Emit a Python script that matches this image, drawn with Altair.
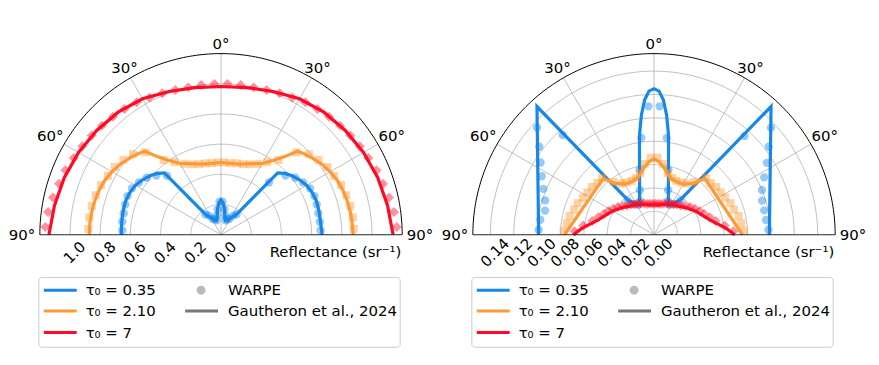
import altair as alt
import pandas as pd

FONT = "DejaVu Sans"
FS = 15
BLUE = "#1688e8"
ORANGE = "#ff9a36"
RED = "#ff0a26"
GRID = "#b0b0b0"

# ---------------- data ----------------
WARPE_ANG = [-87.5, -82.5, -77.5, -72.5, -67.5, -62.5, -57.5, -52.5, -47.5, -42.5,
             -37.5, -32.5, -27.5, -22.5, -17.5, -12.5, -7.5, -2.5,
             2.5, 7.5, 12.5, 17.5, 22.5, 27.5, 32.5, 37.5,
             42.5, 47.5, 52.5, 57.5, 62.5, 67.5, 72.5, 77.5, 82.5, 87.5]

# Left panel
L_BLUE_LINE_ANG = [-90, -85, -80, -75, -70, -65, -60, -55, -50, -46, -42.5, -37, -32, -25, -17, -12, -8, -4, 0,
                   4, 8, 12, 17, 25, 32, 37, 42.5, 46, 50, 55, 60, 65, 70, 75, 80, 85, 90]
L_BLUE_LINE_R = [0.66, 0.662, 0.665, 0.668, 0.67, 0.665, 0.655, 0.635, 0.61, 0.585, 0.556, 0.165, 0.14, 0.11, 0.10, 0.12, 0.17, 0.21, 0.23,
                 0.21, 0.17, 0.12, 0.10, 0.11, 0.14, 0.165, 0.556, 0.585, 0.61, 0.635, 0.655, 0.665, 0.67, 0.668, 0.665, 0.665, 0.67]
L_BLUE_PTS_R = [0.655, 0.66, 0.66, 0.665, 0.67, 0.665, 0.645, 0.62, 0.58, 0.53, 0.17, 0.15, 0.12, 0.11, 0.10, 0.13, 0.17, 0.22,
                0.22, 0.17, 0.13, 0.10, 0.11, 0.12, 0.15, 0.17, 0.47, 0.58, 0.62, 0.645, 0.665, 0.67, 0.665, 0.66, 0.66, 0.66]

L_ORANGE_LINE_ANG = [-90, -85, -80, -75, -70, -65, -60, -55, -50, -46, -42.5, -39, -35, -30, -25, -20, -15, -10, -5, 0,
                     5, 10, 15, 20, 25, 30, 35, 39, 42.5, 46, 50, 55, 60, 65, 70, 75, 80, 85, 90]
L_ORANGE_LINE_R = [0.873, 0.872, 0.87, 0.866, 0.86, 0.85, 0.835, 0.815, 0.79, 0.77, 0.75, 0.665, 0.60, 0.545, 0.52, 0.50, 0.485, 0.478, 0.476, 0.48,
                   0.476, 0.478, 0.485, 0.50, 0.52, 0.545, 0.60, 0.665, 0.75, 0.77, 0.79, 0.815, 0.835, 0.85, 0.86, 0.866, 0.87, 0.872, 0.875]
L_ORANGE_PTS_R = [0.88, 0.88, 0.877, 0.87, 0.86, 0.845, 0.835, 0.815, 0.79, 0.74, 0.625, 0.57, 0.53, 0.505, 0.49, 0.485, 0.478, 0.48,
                  0.48, 0.478, 0.485, 0.49, 0.505, 0.53, 0.57, 0.625, 0.74, 0.79, 0.815, 0.835, 0.845, 0.86, 0.87, 0.877, 0.88, 0.88]

L_RED_LINE_ANG = [-90, -80, -70, -60, -50, -40, -30, -20, -10, 0, 10, 20, 30, 40, 50, 60, 70, 80, 90]
L_RED_LINE_R = [1.14, 1.12, 1.105, 1.09, 1.075, 1.06, 1.04, 1.01, 0.99, 0.982, 0.99, 1.01, 1.04, 1.06, 1.075, 1.09, 1.105, 1.12, 1.14]
L_RED_PTS_R = [1.165, 1.155, 1.14, 1.125, 1.115, 1.10, 1.09, 1.08, 1.07, 1.06, 1.05, 1.04, 1.025, 1.015, 1.005, 1.0, 1.0, 1.0,
               1.0, 1.0, 1.0, 1.005, 1.015, 1.025, 1.04, 1.05, 1.06, 1.07, 1.08, 1.09, 1.10, 1.115, 1.125, 1.14, 1.155, 1.165]

# Right panel
R_BLUE_LINE_ANG = [-90, -42.4, -37, -26, -9, -8, -6, -4, -2, 0, 2, 4, 6, 8, 9, 26, 37, 42.4, 90]
R_BLUE_LINE_R = [0.0987, 0.1485, 0.037, 0.028, 0.0795, 0.088, 0.103, 0.1155, 0.123, 0.125,
                 0.123, 0.1155, 0.103, 0.088, 0.0795, 0.028, 0.037, 0.1485, 0.0987]
R_BLUE_PTS_R = [0.0988, 0.0982, 0.0955, 0.0977, 0.1025, 0.1084, 0.1151, 0.1237, 0.1357, 0.1156, 0.037, 0.031, 0.029, 0.031, 0.040, 0.0568, 0.0836, 0.110,
                0.110, 0.0836, 0.0568, 0.040, 0.031, 0.029, 0.031, 0.037, 0.1146, 0.1357, 0.1237, 0.1146, 0.1063, 0.100, 0.097, 0.0966, 0.0966, 0.098]

R_ORANGE_LINE_ANG = [-90, -42, -37.3, -30, -23, -18, -13.5, -8, -4, 0, 4, 8, 13.5, 18, 23, 30, 37.3, 42, 90]
R_ORANGE_LINE_R = [0.0765, 0.0649, 0.0553, 0.050, 0.0493, 0.050, 0.0525, 0.0585, 0.0625, 0.065,
                   0.0625, 0.0585, 0.0525, 0.050, 0.0493, 0.050, 0.0553, 0.0649, 0.0757]
R_ORANGE_PTS_R = [0.0775, 0.0753, 0.0741, 0.0717, 0.0707, 0.0686, 0.0676, 0.0671, 0.0657, 0.066, 0.057, 0.052, 0.0505, 0.050, 0.051, 0.054, 0.061, 0.066,
                  0.066, 0.061, 0.054, 0.051, 0.050, 0.0505, 0.052, 0.057, 0.066, 0.0657, 0.0671, 0.0676, 0.0686, 0.0707, 0.0717, 0.0741, 0.0753, 0.0770]

R_RED_LINE_ANG = [-90, -85, -80, -75, -70, -60, -50, -40, -30, -20, -10, 0, 10, 20, 30, 40, 50, 60, 70, 75, 80, 85, 90]
R_RED_LINE_R = [0.069, 0.062, 0.0547, 0.0495, 0.0458, 0.0408, 0.036, 0.032, 0.030, 0.0278, 0.026, 0.0255,
                0.026, 0.0278, 0.030, 0.032, 0.036, 0.0408, 0.0458, 0.0495, 0.0547, 0.062, 0.069]
R_RED_PTS_R = [0.068, 0.061, 0.054, 0.050, 0.0465, 0.044, 0.0415, 0.039, 0.0365, 0.034, 0.0325, 0.031, 0.030, 0.029, 0.028, 0.027, 0.0268, 0.0265,
               0.0265, 0.0268, 0.027, 0.028, 0.029, 0.030, 0.031, 0.0325, 0.034, 0.0365, 0.039, 0.0415, 0.044, 0.0465, 0.050, 0.054, 0.061, 0.068]

L_RMAX = 1.2
L_RINGS = [0.2, 0.4, 0.6, 0.8, 1.0]
L_TICKS = [0.0, 0.2, 0.4, 0.6, 0.8, 1.0]
L_TICK_LABELS = ["0.0", "0.2", "0.4", "0.6", "0.8", "1.0"]

R_RMAX = 0.155
R_RINGS = [0.02, 0.04, 0.06, 0.08, 0.10, 0.12, 0.14]
R_TICKS = [0.0, 0.02, 0.04, 0.06, 0.08, 0.10, 0.12, 0.14]
R_TICK_LABELS = ["0.00", "0.02", "0.04", "0.06", "0.08", "0.10", "0.12", "0.14"]

SPOKES = [-60, -30, 0, 30, 60]
EDGES = [-90, 90]
THETA_TICKS = [-90, -60, -30, 0, 30, 60, 90]
THETA_LABELS = ["90°", "60°", "30°", "0°", "30°", "60°", "90°"]

LEGEND_TAU = ["τ₀ = 0.35", "τ₀ = 2.10", "τ₀ = 7"]
LEGEND_COLORS = [BLUE, ORANGE, RED]

# ---------------- layout ----------------
W, H = 430, 349
CX, CY = 212, 227
R_PX = 182

X_EXPR = "datum.r * sin(datum.ang * PI / 180)"
Y_EXPR = "datum.r * cos(datum.ang * PI / 180)"


def panel(rmax, rings, ticks, tick_labels, series):
    k = R_PX / rmax
    xs = alt.Scale(domain=[-CX / k, (W - CX) / k], nice=False, zero=False)
    ys = alt.Scale(domain=[-(H - CY) / k, CY / k], nice=False, zero=False)
    X = alt.X("x:Q", scale=xs, axis=None)
    Y = alt.Y("y:Q", scale=ys, axis=None)

    arc_ang = list(range(-90, 91))
    ring_df = pd.DataFrame([{"ring": rr, "r": rr, "ang": a} for rr in rings for a in arc_ang])
    spine_df = pd.DataFrame([{"r": rmax, "ang": a} for a in arc_ang])

    layers = []
    layers.append(
        alt.Chart(ring_df).mark_line(stroke=GRID, strokeWidth=0.8)
        .transform_calculate(x=X_EXPR, y=Y_EXPR)
        .encode(x=X, y=Y, detail="ring:N", order="ang:Q")
    )
    layers.append(
        alt.Chart(pd.DataFrame({"ang": SPOKES})).mark_rule(stroke=GRID, strokeWidth=0.8)
        .transform_calculate(x="0", y="0",
                             x2=f"{rmax} * sin(datum.ang * PI / 180)",
                             y2=f"{rmax} * cos(datum.ang * PI / 180)")
        .encode(x=X, y=Y, x2="x2:Q", y2="y2:Q")
    )
    for ang, r_line, r_pts, color, shape, size in series:
        ldf = pd.DataFrame({"i": list(range(len(ang))), "ang": ang, "r": r_line})
        pdf = pd.DataFrame({"ang": WARPE_ANG, "r": r_pts})
        layers.append(
            alt.Chart(ldf).mark_line(color=color, strokeWidth=3.2)
            .transform_calculate(x=X_EXPR, y=Y_EXPR)
            .encode(x=X, y=Y, order="i:Q")
        )
        layers.append(
            alt.Chart(pdf).mark_point(shape=shape, filled=True, size=size, color=color,
                                      opacity=0.45, strokeWidth=0)
            .transform_calculate(x=X_EXPR, y=Y_EXPR)
            .encode(x=X, y=Y)
        )
    layers.append(
        alt.Chart(spine_df).mark_line(stroke="black", strokeWidth=1)
        .transform_calculate(x=X_EXPR, y=Y_EXPR)
        .encode(x=X, y=Y, order="ang:Q")
    )
    layers.append(
        alt.Chart(pd.DataFrame({"ang": EDGES})).mark_rule(stroke="#222222", strokeWidth=1)
        .transform_calculate(x="0", y="0",
                             x2=f"{rmax} * sin(datum.ang * PI / 180)",
                             y2=f"{rmax} * cos(datum.ang * PI / 180)")
        .encode(x=X, y=Y, x2="x2:Q", y2="y2:Q")
    )
    layers.append(
        alt.Chart(pd.DataFrame({"ang": THETA_TICKS, "label": THETA_LABELS}))
        .mark_text(font=FONT, fontSize=FS, align="center", baseline="middle", color="black")
        .transform_calculate(
            rr=f"{rmax} * (192 + 8 * pow(sin(datum.ang * PI / 180), 2)) / {R_PX}")
        .transform_calculate(x="datum.rr * sin(datum.ang * PI / 180)",
                             y="datum.rr * cos(datum.ang * PI / 180)")
        .encode(x=X, y=Y, text="label:N")
    )
    layers.append(
        alt.Chart(pd.DataFrame({"v": ticks, "label": tick_labels}))
        .mark_text(font=FONT, fontSize=FS, align="center", baseline="middle", angle=315, color="black")
        .transform_calculate(x=f"-datum.v + {4.5 / k}", y=f"{-18 / k}")
        .encode(x=X, y=Y, text="label:N")
    )
    layers.append(
        alt.Chart().mark_text(font=FONT, fontSize=FS, align="center", baseline="middle", color="black")
        .encode(x=alt.value(CX + 115), y=alt.value(CY + 17), text=alt.value("Reflectance (sr⁻¹)"))
    )
    layers.append(
        alt.Chart().mark_rect(fill="white", stroke="#cccccc", strokeWidth=1, cornerRadius=3)
        .encode(x=alt.value(29), x2=alt.value(392), y=alt.value(270), y2=alt.value(340))
    )
    rows = [282.7, 303.7, 325.3]
    for lab, col, yy in zip(LEGEND_TAU, LEGEND_COLORS, rows):
        layers.append(
            alt.Chart().mark_rule(color=col, strokeWidth=3)
            .encode(x=alt.value(34), x2=alt.value(67), y=alt.value(yy))
        )
        layers.append(
            alt.Chart().mark_text(font=FONT, fontSize=FS, align="left", baseline="middle", color="black")
            .encode(x=alt.value(76), y=alt.value(yy), text=alt.value(lab))
        )
    layers.append(
        alt.Chart().mark_point(shape="circle", filled=True, size=80, color="#bbbbbb", opacity=1)
        .encode(x=alt.value(192), y=alt.value(rows[0]))
    )
    layers.append(
        alt.Chart().mark_rule(color="#777777", strokeWidth=3)
        .encode(x=alt.value(176), x2=alt.value(209), y=alt.value(rows[1]))
    )
    layers.append(
        alt.Chart().mark_text(font=FONT, fontSize=FS, align="left", baseline="middle", color="black")
        .encode(x=alt.value(219), y=alt.value(rows[0]), text=alt.value("WARPE"))
    )
    layers.append(
        alt.Chart().mark_text(font=FONT, fontSize=FS, align="left", baseline="middle", color="black")
        .encode(x=alt.value(219), y=alt.value(rows[1]), text=alt.value("Gautheron et al., 2024"))
    )
    return alt.layer(*layers).properties(width=W, height=H)


left = panel(L_RMAX, L_RINGS, L_TICKS, L_TICK_LABELS, [
    (L_BLUE_LINE_ANG, L_BLUE_LINE_R, L_BLUE_PTS_R, BLUE, "circle", 70),
    (L_ORANGE_LINE_ANG, L_ORANGE_LINE_R, L_ORANGE_PTS_R, ORANGE, "square", 64),
    (L_RED_LINE_ANG, L_RED_LINE_R, L_RED_PTS_R, RED, "diamond", 100),
])
right = panel(R_RMAX, R_RINGS, R_TICKS, R_TICK_LABELS, [
    (R_BLUE_LINE_ANG, R_BLUE_LINE_R, R_BLUE_PTS_R, BLUE, "circle", 70),
    (R_ORANGE_LINE_ANG, R_ORANGE_LINE_R, R_ORANGE_PTS_R, ORANGE, "square", 64),
    (R_RED_LINE_ANG, R_RED_LINE_R, R_RED_PTS_R, RED, "diamond", 100),
])

chart = (
    alt.hconcat(left, right, spacing=3)
    .resolve_scale(x="independent", y="independent")
    .properties(padding=0)
    .configure_view(strokeWidth=0)
)

chart.save("out.html", embed_options={"renderer": "svg", "actions": False})
